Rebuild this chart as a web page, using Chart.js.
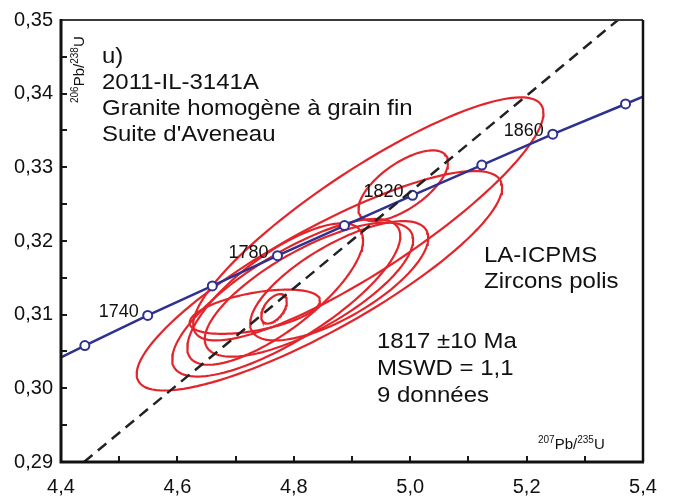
<!DOCTYPE html>
<html>
<head>
<meta charset="utf-8">
<script src="https://cdn.jsdelivr.net/npm/chart.js@4"></script>
<style>
  body { margin: 0; background: #fff; }
  #wrap { width: 675px; height: 498px; }
</style>
</head>
<body>
<div id="wrap"><canvas id="concordia" width="675" height="498"></canvas></div>
<script>
// Axis ticks
const xTicks = [4.4, 4.6, 4.8, 5.0, 5.2, 5.4];
const xMinorTicks = [4.5, 4.7, 4.9, 5.1, 5.3];
const yTicks = [0.29, 0.30, 0.31, 0.32, 0.33, 0.34, 0.35];
const yMinorTicks = [0.295, 0.305, 0.315, 0.325, 0.335, 0.345];

// Concordia curve (207Pb/235U, 206Pb/238U), markers every 20 Ma
const concAges = [null, 1720, 1740, 1760, 1780, 1800, 1820, 1840, 1860, 1880, null];
const concX = [4.400, 4.441, 4.549, 4.660, 4.772, 4.887, 5.004, 5.123, 5.245, 5.370, 5.400];
const concY = [0.3042, 0.3058, 0.3099, 0.3139, 0.3180, 0.3221, 0.3262, 0.3303, 0.3345, 0.3386, 0.3396];
const labelledAges = [1740, 1780, 1820, 1860];

// Discordia / reference line (dashed)
const lineX = [4.4395, 5.357];
const lineY = [0.29, 0.35];

// Error ellipses: centre, half-widths and correlation
const ellX   = [4.928, 4.988, 4.844, 4.768, 4.787, 4.826, 4.878, 4.766, 4.733];
const ellSX  = [0.301, 0.077, 0.314, 0.151, 0.196, 0.179, 0.153, 0.022, 0.112];
const ellY   = [0.3230, 0.3275, 0.3146, 0.3128, 0.3123, 0.3134, 0.3146, 0.3108, 0.3104];
const ellSY  = [0.0165, 0.0048, 0.0149, 0.0096, 0.0107, 0.0091, 0.0081, 0.0020, 0.0030];
const ellRho = [0.87, 0.66, 0.85, 0.76, 0.78, 0.74, 0.72, 0.50, 0.50];

const RED = '#e3252b';
const BLUE = '#2e3190';
const FONT = "'Liberation Sans', Arial, sans-serif";

function ellipsePoints(i) {
  const pts = [];
  const k = Math.sqrt(1 - ellRho[i] * ellRho[i]);
  for (let s = 0; s <= 120; s++) {
    const t = s / 120 * 2 * Math.PI;
    pts.push({
      x: ellX[i] + ellSX[i] * Math.cos(t),
      y: ellY[i] + ellSY[i] * (ellRho[i] * Math.cos(t) + k * Math.sin(t))
    });
  }
  return pts;
}

const datasets = [];

datasets.push({
  label: 'discordia',
  data: lineX.map((x, i) => ({ x, y: lineY[i] })),
  showLine: true,
  borderColor: '#222',
  borderWidth: 2.5,
  borderDash: [11, 7],
  pointRadius: 0,
  order: 0
});

datasets.push({
  label: 'concordia',
  data: concX.map((x, i) => ({ x, y: concY[i], age: concAges[i] })),
  showLine: true,
  borderColor: BLUE,
  borderWidth: 2.5,
  pointRadius: ctx => (ctx.raw && ctx.raw.age ? 4.5 : 0),
  pointBorderColor: BLUE,
  pointBackgroundColor: '#fff',
  pointBorderWidth: 2,
  order: 1
});

ellX.forEach((_, i) => {
  datasets.push({
    label: 'ellipse ' + (i + 1),
    data: ellipsePoints(i),
    showLine: true,
    borderColor: RED,
    borderWidth: 2.2,
    pointRadius: 0,
    tension: 0,
    order: 2
  });
});

// text drawn with slight horizontal stretch like the original figure
function stretchText(ctx, text, x, y, size, sx) {
  ctx.save();
  ctx.translate(x, y);
  ctx.scale(sx, 1);
  ctx.font = size + 'px ' + FONT;
  ctx.fillText(text, 0, 0);
  ctx.restore();
}

// Pb ratio title with superscript isotopes
function isoTitle(ctx, parts, x, y) {
  let cx = x;
  parts.forEach(p => {
    ctx.font = (p.sup ? 10 : 15) + 'px ' + FONT;
    ctx.fillText(p.t, cx, p.sup ? y - 6 : y);
    cx += ctx.measureText(p.t).width;
  });
}

const framePlugin = {
  id: 'frame',
  afterDraw(chart) {
    const { ctx, chartArea: a, scales } = chart;
    const xs = scales.x, ys = scales.y;
    ctx.save();
    ctx.fillStyle = '#111';
    ctx.strokeStyle = '#1a1a1a';

    // inside tick marks
    ctx.lineWidth = 2;
    ctx.beginPath();
    yTicks.concat(yMinorTicks).forEach(v => {
      const py = Math.round(ys.getPixelForValue(v));
      ctx.moveTo(a.left, py);
      ctx.lineTo(a.left + 6, py);
    });
    xTicks.concat(xMinorTicks).forEach(v => {
      const px = Math.round(xs.getPixelForValue(v));
      ctx.moveTo(px, a.bottom);
      ctx.lineTo(px, a.bottom - 6);
    });
    ctx.stroke();

    // frame
    ctx.lineWidth = 2;
    ctx.strokeStyle = '#3a3a3a';
    ctx.beginPath();
    ctx.moveTo(a.left, a.top);
    ctx.lineTo(a.right, a.top);
    ctx.stroke();
    ctx.strokeStyle = '#111';
    ctx.lineWidth = 2.5;
    ctx.beginPath();
    ctx.moveTo(a.right, a.top);
    ctx.lineTo(a.right, a.bottom);
    ctx.stroke();
    ctx.lineWidth = 3;
    ctx.beginPath();
    ctx.moveTo(a.left, a.top - 1);
    ctx.lineTo(a.left, a.bottom);
    ctx.lineTo(a.right + 1, a.bottom);
    ctx.stroke();

    // age labels next to concordia markers
    ctx.textAlign = 'right';
    ctx.font = '18px ' + FONT;
    labelledAges.forEach(age => {
      const i = concAges.indexOf(age);
      const px = xs.getPixelForValue(concX[i]);
      const py = ys.getPixelForValue(concY[i]);
      ctx.fillText(String(age), px - 9, py + 2);
    });

    // sample annotation
    ctx.textAlign = 'left';
    const left = ['u)', '2011-IL-3141A', 'Granite homogène à grain fin', "Suite d'Aveneau"];
    left.forEach((t, i) => stretchText(ctx, t, 102, 63 + i * 26, 22, 1.09));
    stretchText(ctx, 'LA-ICPMS', 484, 262, 22, 1.09);
    stretchText(ctx, 'Zircons polis', 484, 288, 22, 1.09);
    ['1817 ±10 Ma', 'MSWD = 1,1', '9 données'].forEach((t, i) =>
      stretchText(ctx, t, 377, 348 + i * 27, 22, 1.09));

    // axis titles
    isoTitle(ctx, [{ t: '207', sup: true }, { t: 'Pb/' }, { t: '235', sup: true }, { t: 'U' }], 538, 449);
    ctx.save();
    ctx.translate(84, 103);
    ctx.rotate(-Math.PI / 2);
    isoTitle(ctx, [{ t: '206', sup: true }, { t: 'Pb/' }, { t: '238', sup: true }, { t: 'U' }], 0, 0);
    ctx.restore();

    ctx.restore();
  }
};

new Chart(document.getElementById('concordia').getContext('2d'), {
  type: 'scatter',
  data: { datasets },
  options: {
    responsive: false,
    animation: false,
    layout: { padding: { top: 15, right: 32, left: 0, bottom: 0 } },
    plugins: { legend: { display: false }, tooltip: { enabled: false } },
    scales: {
      x: {
        type: 'linear',
        min: 4.4,
        max: 5.4,
        afterBuildTicks: s => { s.ticks = xTicks.map(v => ({ value: v })); },
        afterFit: s => { s.height = 36; },
        grid: { display: false, drawTicks: false },
        border: { display: false },
        ticks: {
          padding: 13,
          color: '#111',
          font: { family: FONT, size: 20 },
          maxRotation: 0,
          callback: v => v.toFixed(1).replace('.', ',')
        }
      },
      y: {
        type: 'linear',
        min: 0.29,
        max: 0.35,
        afterBuildTicks: s => { s.ticks = yTicks.map(v => ({ value: v })); },
        afterFit: s => { s.width = 61; },
        grid: { display: false, drawTicks: false },
        border: { display: false },
        ticks: {
          padding: 8,
          color: '#111',
          font: { family: FONT, size: 20 },
          callback: v => v.toFixed(2).replace('.', ',')
        }
      }
    }
  },
  plugins: [framePlugin]
});
</script>
</body>
</html>
